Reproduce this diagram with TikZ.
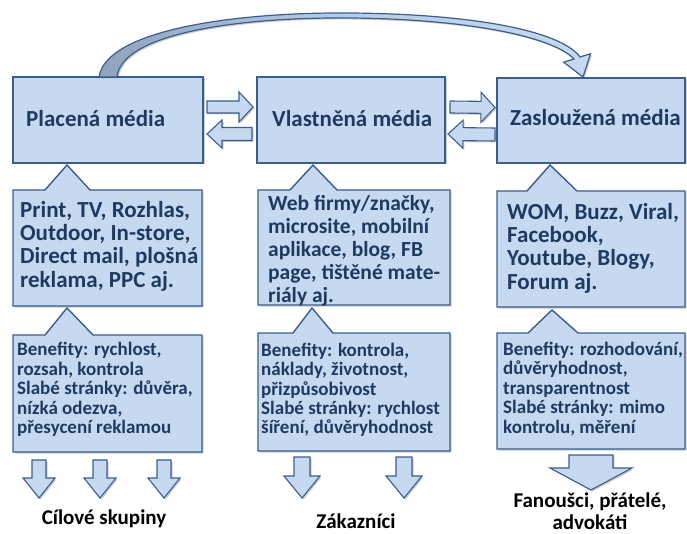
\documentclass[tikz,border=0pt]{standalone}
\usepackage{fontspec}
\setmainfont{Carlito}
\usetikzlibrary{calc,shadows}

\definecolor{boxfill}{HTML}{C6D9F1}
\definecolor{boxline}{HTML}{3B5F8C}
\definecolor{boxtext}{HTML}{1F3A60}
\definecolor{arcfoot}{HTML}{8FA3BD}

% block arrow from tail #2 to tip #3: body half-width #4, head half-width #5, head length #6
\newcommand\blockarrow[6]{%
  \coordinate (ba-base) at ($(#3)!#6!(#2)$);
  \draw[#1] ($(#2)!#4!90:(#3)$) -- ($(ba-base)!#4!90:(#3)$) -- ($(ba-base)!#5!90:(#3)$)
    -- (#3) -- ($(ba-base)!#5!-90:(#3)$) -- ($(ba-base)!#4!-90:(#3)$)
    -- ($(#2)!#4!-90:(#3)$) -- cycle;}

% rectangular callout: frame node #1, pointer base from #2 to #3 (offsets along the top), tip #4
\newcommand\calloutframe[4]{%
  \draw[boxshape,softshadow] (#1.north west) -- ($(#1.north west)+(#2,0)$) -- (#4)
    -- ($(#1.north west)+(#3,0)$) -- (#1.north east) -- (#1.south east)
    -- (#1.south west) -- cycle;}

\begin{document}
\begin{tikzpicture}[x=1pt,y=-1pt,
  softshadow/.style={drop shadow={shadow xshift=1.5pt,shadow yshift=-1.5pt,opacity=0.28,fill=black!70}},
  boxshape/.style={fill=boxfill,draw=boxline,line width=1.4pt,line join=miter},
  frame/.style={anchor=north west,inner sep=0pt,outer sep=0pt},
  barrow/.style={fill=boxfill,draw=boxline,line width=1.1pt,line join=miter,softshadow},
  toptext/.style={anchor=west,inner sep=0pt,text=boxtext,font=\fontsize{23}{25}\selectfont\bfseries},
  midtext/.style={anchor=west,inner sep=0pt,align=left,text=boxtext,font=\fontsize{23}{23.4}\selectfont\bfseries},
  bottext/.style={anchor=west,inner sep=0pt,align=left,text=boxtext,font=\fontsize{19}{19.4}\selectfont\bfseries},
  lbl/.style={inner sep=0pt,align=center,text=black,font=\fontsize{21}{22}\selectfont\bfseries}]

\fill[white] (0,0) rectangle (687,534);
\useasboundingbox (0,0) rectangle (687,534);

% top row: the three kinds of media
\node[frame,boxshape,softshadow,minimum width=190pt,minimum height=86pt] (pm) at (13,77) {};
\node[frame,boxshape,softshadow,minimum width=188pt,minimum height=86pt] (vm) at (257,77) {};
\node[frame,boxshape,softshadow,minimum width=188pt,minimum height=85pt] (zm) at (497,78) {};

% frames of the callout boxes
\node[frame,minimum width=189pt,minimum height=116pt] (m1) at (13,190) {};
\node[frame,minimum width=192pt,minimum height=115pt] (m2) at (258,190) {};
\node[frame,minimum width=188pt,minimum height=116pt] (m3) at (497,191) {};
\node[frame,minimum width=189pt,minimum height=117pt] (b1) at (13,335) {};
\node[frame,minimum width=192pt,minimum height=118pt] (b2) at (258,333) {};
\node[frame,minimum width=188pt,minimum height=116pt] (b3) at (497,333) {};

% pointer tips
\coordinate (tm1) at ($(pm.south west)+(54,2)$);
\coordinate (tm2) at ($(vm.south west)+(56,2)$);
\coordinate (tm3) at ($(zm.south west)+(53,2)$);
\coordinate (tb1) at ($(m1.south west)+(54,2)$);
\coordinate (tb2) at ($(m2.south west)+(54,3)$);
\coordinate (tb3) at ($(m3.south west)+(55,3)$);

\calloutframe{m1}{32pt}{77pt}{tm1}
\calloutframe{m2}{32pt}{79pt}{tm2}
\calloutframe{m3}{30pt}{80pt}{tm3}
\calloutframe{b1}{32pt}{80pt}{tb1}
\calloutframe{b2}{35pt}{75pt}{tb2}
\calloutframe{b3}{31pt}{81pt}{tb3}

% curved arrow from paid to earned media
\coordinate (arcA) at ($(pm.north west)+(86,0)$);
\coordinate (arcB) at ($(pm.north west)+(104,0)$);
\coordinate (arcTip) at ($(zm.north west)+(86,-1)$);
\draw[draw=boxline,line width=1.2pt,line join=miter,left color=arcfoot,right color=boxfill,
      middle color=boxfill!75!arcfoot,softshadow]
  (arcA) .. controls (106,30) and (235,12) .. (350,13)
  .. controls (470,14) and (560,30) .. (580,57)
  -- (590.5,53.8) -- (arcTip) -- (563.6,62.2) -- (574,59)
  .. controls (552,36) and (465,19) .. (350,18)
  .. controls (245,17) and (122,32) .. (arcB) -- cycle;

% arrows between the top boxes
\coordinate (r1s) at ($(pm.east)+(4,-13)$);  \coordinate (r1e) at ($(vm.west)+(-4,-13)$);
\coordinate (l1s) at ($(vm.west)+(-5,14)$);  \coordinate (l1e) at ($(pm.east)+(4,14)$);
\coordinate (r2s) at ($(vm.east)+(5,-13)$);  \coordinate (r2e) at ($(zm.west)+(-2,-13)$);
\coordinate (l2s) at ($(zm.west)+(-2,14)$);  \coordinate (l2e) at ($(vm.east)+(3,14)$);
\blockarrow{barrow}{r1s}{r1e}{6pt}{15pt}{14pt}
\blockarrow{barrow}{l1s}{l1e}{6.5pt}{14pt}{15pt}
\blockarrow{barrow}{r2s}{r2e}{6pt}{15pt}{14pt}
\blockarrow{barrow}{l2s}{l2e}{6.5pt}{14pt}{15pt}

% texts
\node[toptext] at ($(pm.west)+(13,-1)$) {Placená média};
\node[toptext] at ($(vm.west)+(15,-1)$) {Vlastněná média};
\node[toptext] at ($(zm.west)+(13,-2.5)$) {Zasloužená média};

\node[midtext] at ($(m1.west)+(7,-2)$) {Print, TV, Rozhlas,\\Outdoor, In-store,\\Direct mail, plošná\\reklama, PPC aj.};
\node[midtext,font=\fontsize{21.5}{23}\selectfont\bfseries] at ($(m2.west)+(10,3)$)
  {Web firmy/značky,\\microsite, mobilní\\aplikace, blog, FB\\page, tištěné mate-\\riály aj.};
\node[midtext] at ($(m3.west)+(10,-1)$) {WOM, Buzz, Viral,\\Facebook,\\Youtube, Blogy,\\Forum aj.};

\node[bottext] at ($(b1.west)+(4,-4)$) {Benefity: rychlost,\\rozsah, kontrola\\Slabé stránky: důvěra,\\nízká odezva,\\přesycení reklamou};
\node[bottext] at ($(b2.west)+(3,-2)$) {Benefity: kontrola,\\náklady, životnost,\\přizpůsobivost\\Slabé stránky: rychlost\\šíření, důvěryhodnost};
\node[bottext] at ($(b3.west)+(6,-2)$) {Benefity: rozhodování,\\důvěryhodnost,\\transparentnost\\Slabé stránky: mimo\\kontrolu, měření};

% audiences
\node[lbl] (t1) at (104,519) {Cílové skupiny};
\node[lbl] (t2) at (356,521) {Zákazníci};
\node[lbl] (t3) at (590,511) {Fanoušci, přátelé,\\advokáti};

% arrows down to the audiences
\coordinate (d1s) at ($(b1.south west)+(26,8)$);   \coordinate (d1e) at ($(b1.south west)+(26,46)$);
\coordinate (d2s) at ($(b1.south west)+(87,8)$);   \coordinate (d2e) at ($(b1.south west)+(87,46)$);
\coordinate (d3s) at ($(b1.south west)+(151,8)$);  \coordinate (d3e) at ($(b1.south west)+(151,46)$);
\coordinate (d4s) at ($(b2.south west)+(44,6)$);   \coordinate (d4e) at ($(b2.south west)+(44,47)$);
\coordinate (d5s) at ($(b2.south west)+(146,6)$);  \coordinate (d5e) at ($(b2.south west)+(146,47)$);
\coordinate (d6s) at ($(b3.south west)+(94,6)$);   \coordinate (d6e) at ($(b3.south west)+(94,41)$);
\blockarrow{barrow}{d1s}{d1e}{7pt}{16pt}{20pt}
\blockarrow{barrow}{d2s}{d2e}{7pt}{16pt}{20pt}
\blockarrow{barrow}{d3s}{d3e}{7pt}{16pt}{20pt}
\blockarrow{barrow}{d4s}{d4e}{8pt}{18pt}{22pt}
\blockarrow{barrow}{d5s}{d5e}{8pt}{18pt}{22pt}
\blockarrow{barrow}{d6s}{d6e}{22pt}{41pt}{22pt}
\end{tikzpicture}
\end{document}
